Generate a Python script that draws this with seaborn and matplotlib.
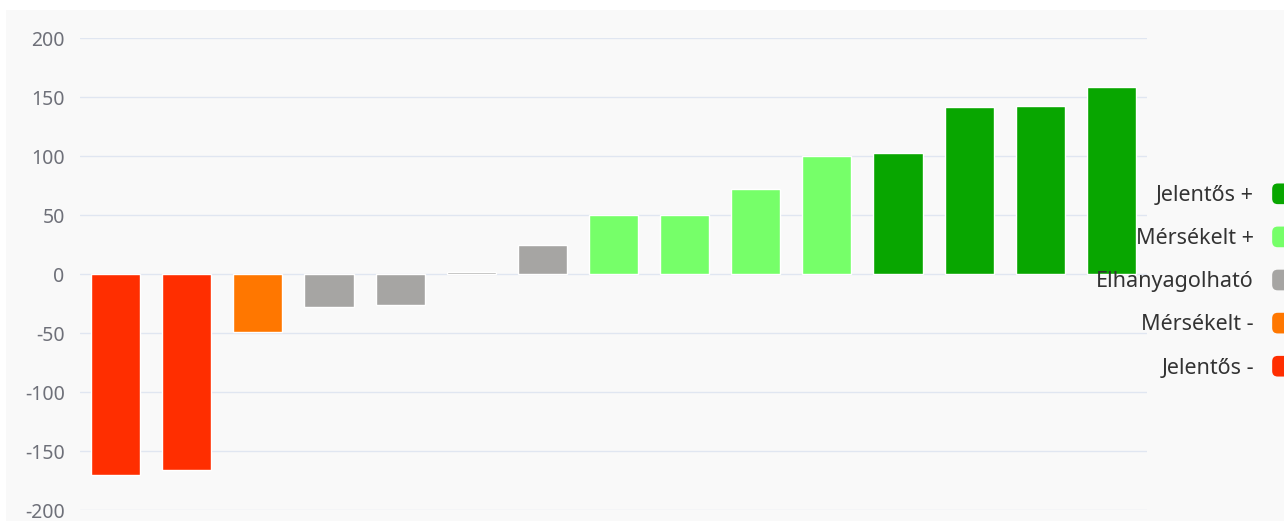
import matplotlib
matplotlib.use("Agg")
import matplotlib.pyplot as plt
import seaborn as sns
import pandas as pd
from matplotlib.patches import Patch, FancyBboxPatch, Rectangle
from matplotlib.legend_handler import HandlerPatch

# data
items = [f"T{i}" for i in range(1, 16)]
values = [-170, -166, -49, -28, -26, 1.4, 25, 50, 50, 72, 100, 103, 142, 143, 159]
groups = ["Jelentős -", "Jelentős -", "Mérsékelt -", "Elhanyagolható", "Elhanyagolható",
          "Elhanyagolható", "Elhanyagolható", "Mérsékelt +", "Mérsékelt +", "Mérsékelt +",
          "Mérsékelt +", "Jelentős +", "Jelentős +", "Jelentős +", "Jelentős +"]
legend_order = ["Jelentős +", "Mérsékelt +", "Elhanyagolható", "Mérsékelt -", "Jelentős -"]
colors = {"Jelentős +": "#08a600", "Mérsékelt +": "#76ff69", "Elhanyagolható": "#a6a5a3",
          "Mérsékelt -": "#ff7700", "Jelentős -": "#ff2e00"}

df = pd.DataFrame({"item": items, "value": values, "group": groups})

sns.set_style("white")
plt.rcParams['font.family'] = ['Noto Sans', 'DejaVu Sans']
plt.rcParams['axes.unicode_minus'] = False

fig = plt.figure(figsize=(12.84, 5.21), dpi=100, facecolor="white")
# light grey panel behind the chart
fig.patches.append(Rectangle((6 / 1284, 0), 1, 1 - 10 / 521, transform=fig.transFigure,
                             facecolor="#f9f9f9", edgecolor="none", zorder=-10))
ax = fig.add_axes([80 / 1284, 1 - 510 / 521, (1147 - 80) / 1284, (510 - 38.3) / 521])
ax.set_facecolor("none")

sns.barplot(data=df, x="item", y="value", hue="group", palette=colors, dodge=False,
            width=0.69, legend=False, ax=ax, zorder=3, saturation=1)

ax.set_ylim(-200, 200)
ax.set_yticks(range(-200, 201, 50))
ax.set_xlim(-0.5, len(items) - 0.5)
ax.set_xticks([])
ax.set_xlabel("")
ax.set_ylabel("")
ax.grid(axis="y", color="#e0e6f1", linewidth=1.0, zorder=0)
ax.set_axisbelow(True)
for s in ax.spines.values():
    s.set_visible(False)
ax.tick_params(axis="y", length=0, pad=11, labelsize=14, labelcolor="#6e7079")


class RoundHandler(HandlerPatch):
    def create_artists(self, legend, orig_handle, xdescent, ydescent, width, height, fontsize, trans):
        p = FancyBboxPatch((-xdescent, -ydescent), width, height,
                           boxstyle="round,pad=0,rounding_size=4",
                           facecolor=orig_handle.get_facecolor(), edgecolor="none",
                           transform=trans)
        return [p]


handles = [Patch(facecolor=colors[g], label=g) for g in legend_order]
leg = fig.legend(handles=handles, loc="center right", bbox_to_anchor=(1312 / 1284, 1 - 281 / 521),
                 frameon=False, markerfirst=False, fontsize=15.5, handlelength=1.85,
                 handleheight=1.1, handletextpad=0.85, labelspacing=0.95, borderpad=0,
                 borderaxespad=0, handler_map={Patch: RoundHandler()})
for t in leg.get_texts():
    t.set_color("#333333")

fig.savefig("out.png", dpi=100)
